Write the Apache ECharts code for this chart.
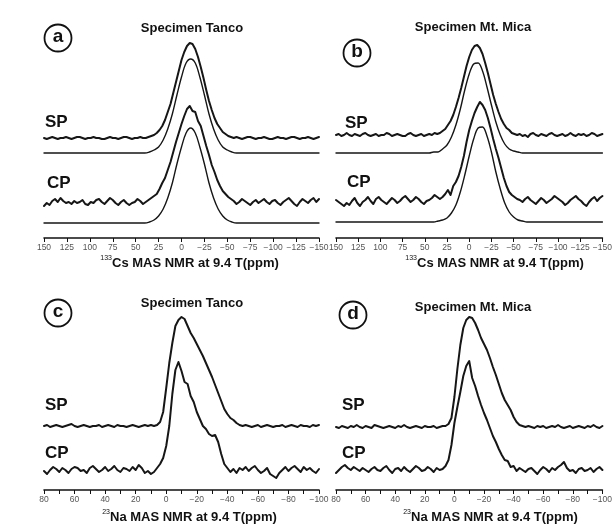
<!DOCTYPE html>
<html>
<head>
<meta charset="utf-8">
<script src="https://cdn.jsdelivr.net/npm/echarts@6/dist/echarts.min.js"></script>
<style>
html,body{margin:0;padding:0;background:#fff;}
#c{width:615px;height:527px;}
</style>
</head>
<body>
<div id="c"></div>
<script>
// ---- sample grids (ppm) ----
const topNoisyStart = 150, topNoisyStep = 3, topNoisyN = 101;
const topFitStart = 150, topFitStep = 5, topFitN = 61;
const botStart = 80, botStep = 2, botN = 91;

// ---- tick labels ----
const topTicks = [150,125,100,75,50,25,0,-25,-50,-75,-100,-125,-150];
const botTicks = [80,60,40,20,0,-20,-40,-60,-80,-100];

// ---- Panel a: 133Cs, Specimen Tanco (intensity above each trace baseline) ----
const spA = [0,-1,0,1,0,-1,0,0,1,0,-1,0,1,1,0,-1,0,0,1,0,0,-1,-1,0,1,0,0,-1,0,1,1,0,-1,0,0,1,0,0,1,2,
3,5,8,12,18,26,34,45,56,67,78,86,92,95,94,89,81,71,60,48,37,28,20,14,10,6,4,2,1,
0,1,0,-1,0,1,1,0,-1,0,0,1,0,-1,-1,0,1,0,0,-1,0,1,1,0,-1,0,0,1,0,-1,0,1];
const spAfit = [0,0,0,0,0,0,0,0,0,0,0,0,0,0,0,0,0,0,0,0,0,0,0,
1,3,6,13,24,39,58,76,90,94,90,76,58,39,24,13,6,3,1,
0,0,0,0,0,0,0,0,0,0,0,0,0,0,0,0,0,0,0];
const cpA = [-4,-1,-3,1,3,0,4,1,-1,0,-2,1,-1,0,2,-2,-3,0,-1,2,3,0,-2,1,4,2,-1,-3,0,2,-1,-3,-1,0,3,1,-2,0,2,4,
6,8,13,19,24,32,40,50,60,69,78,86,93,96,91,90,81,76,66,56,47,37,30,22,16,11,8,5,3,
1,-2,0,3,1,-1,-3,0,2,-1,1,3,0,-2,1,2,-1,-3,0,2,4,1,-2,-4,0,3,1,-1,2,4,0,3];
const cpAfit = [0,0,0,0,0,0,0,0,0,0,0,0,0,0,0,0,0,0,0,0,0,0,0,
1,3,7,14,25,40,59,76,90,95,90,76,59,40,25,14,7,3,1,
0,0,0,0,0,0,0,0,0,0,0,0,0,0,0,0,0,0,0];

// ---- Panel b: 133Cs, Specimen Mt. Mica ----
const spB = [0,1,-1,0,2,0,-1,1,0,-1,1,2,0,-1,0,1,-1,0,0,2,1,-1,0,1,0,-1,-1,1,2,0,-1,0,1,-1,0,1,0,2,1,2,
4,6,10,14,20,28,37,47,58,69,78,85,89,90,87,81,72,62,51,40,31,23,16,11,7,5,2,1,0,
1,-1,0,-2,1,2,0,-1,1,0,-1,1,2,0,-1,0,1,-1,0,2,0,-1,1,0,1,-1,0,2,1,-1,0,1];
const spBfit = [0,0,0,0,0,0,0,0,0,0,0,0,0,0,0,0,0,0,0,0,0,0,
1,1,4,8,16,28,44,63,79,89,90,82,66,48,31,18,9,4,2,1,
0,0,0,0,0,0,0,0,0,0,0,0,0,0,0,0,0,0,0];
const cpB = [0,-2,-4,-6,-3,-5,-1,2,-3,-6,-2,0,3,-1,-4,1,3,0,-2,-4,-1,2,0,-3,-1,2,4,1,-2,0,3,1,-2,-4,-1,0,2,5,3,1,
3,6,10,5,14,18,24,33,44,58,70,79,87,93,98,95,90,82,72,61,51,42,32,22,14,8,5,3,1,
0,-2,1,3,0,-2,-4,-1,2,0,-3,-1,1,4,2,0,-2,-5,-3,0,2,4,1,-1,-4,-6,-2,1,3,-1,2,4];
const cpBfit = [0,0,0,0,0,0,0,0,0,0,0,0,0,0,0,0,0,0,0,0,0,0,0,
1,2,4,9,17,30,47,66,83,94,95,86,70,50,33,19,10,5,2,1,
0,0,0,0,0,0,0,0,0,0,0,0,0,0,0,0,0,0];

// ---- Panel c: 23Na, Specimen Tanco ----
const spC = [0,1,-1,0,1,0,-1,0,1,2,0,-1,0,1,0,-1,0,0,1,-1,0,1,0,-1,1,0,0,-1,0,1,0,-1,0,1,0,1,0,
1,4,14,38,63,83,100,106,109,107,100,93,88,82,76,70,63,56,49,41,33,25,17,12,8,6,3,1,0,
1,0,-1,0,1,-1,0,1,0,-1,0,0,1,-1,0,1,0,-1,1,0,0,-1,1,0,1];
const cpC = [-1,-4,0,3,1,-2,2,0,-3,1,3,2,-1,0,-3,2,4,1,-2,0,3,-1,1,4,0,-2,2,1,-1,3,0,5,2,-3,-1,-4,-2,
2,6,12,24,44,76,100,108,99,88,86,74,68,58,51,44,41,36,34,35,28,16,6,2,-2,1,-3,2,0,
3,-1,2,4,0,-3,-1,2,-4,-6,-8,-3,0,3,-1,2,4,1,-2,3,0,2,-1,-3,1];

// ---- Panel d: 23Na, Specimen Mt. Mica ----
const spD = [0,-1,1,0,-1,1,0,2,0,-1,1,0,-1,2,1,0,-1,0,1,0,-1,1,0,2,0,-1,0,1,0,-1,1,0,0,1,-1,0,1,
1,3,9,30,58,82,99,107,110,109,104,97,89,83,77,69,60,52,43,34,27,22,17,10,5,2,1,0,1,
0,-1,1,0,1,-1,0,1,0,2,0,-1,0,1,-1,0,1,0,-1,1,0,2,0,-1,1];
const cpD = [-3,0,3,5,2,0,3,1,-1,2,0,-2,1,3,0,-1,2,4,0,-3,1,2,-1,3,0,-2,1,4,2,-1,0,3,1,-2,2,0,1,
4,10,25,47,63,78,94,104,109,92,84,74,65,57,50,42,34,28,21,15,10,9,3,4,-1,2,0,-2,1,
2,-1,-4,0,3,1,-2,2,0,3,5,8,2,-1,0,-3,1,2,-1,0,2,-2,1,3,0];

// ---- vertical stacking offsets of each trace (plot units) ----
const offA = {sp:100, spFit:85, cp:36, cpFit:15};
const offB = {sp:103, spFit:85, cp:38, cpFit:16};
const offC = {sp:64, cp:20};
const offD = {sp:63, cp:20};

const ppmTopNoisy = Array.from({length:topNoisyN},(_,i)=>topNoisyStart-topNoisyStep*i);
const ppmTopFit = Array.from({length:topFitN},(_,i)=>topFitStart-topFitStep*i);
const ppmBot = Array.from({length:botN},(_,i)=>botStart-botStep*i);

const INK = '#161616';
const FONT = '"Liberation Sans", Arial, sans-serif';

function line(idx, xs, vals, off, w, smooth){
  return {
    type:'line', xAxisIndex:idx, yAxisIndex:idx, showSymbol:false, symbol:'none',
    smooth: smooth ? 0.35 : false, animation:false, silent:true,
    lineStyle:{color:INK, width:w, join:'round', cap:'round'},
    data: vals.map((v,i)=>[xs[i], v+off])
  };
}
function fmt(v){ return v<0 ? '\u2212'+(-v) : String(v); }

function xAxisDef(idx, min, max, interval, labelSet){
  return {
    gridIndex:idx, type:'value', min:min, max:max, interval:interval, inverse:true,
    axisLine:{show:true, onZero:false, lineStyle:{color:'#111', width:1.6}},
    axisTick:{show:true, inside:false, length:4, lineStyle:{color:'#111', width:1}},
    axisLabel:{show:true, margin:5, fontSize:8.5, color:'#555', fontFamily:FONT,
      showMinLabel:true, showMaxLabel:true,
      formatter:(v)=> labelSet.indexOf(v)>=0 ? fmt(v) : ''},
    splitLine:{show:false}
  };
}
function yAxisDef(idx, h){
  return {gridIndex:idx, type:'value', min:0, max:h, show:false, splitLine:{show:false}};
}

const grids = [
  {left:44, width:275, top:28, height:210},
  {left:336, width:275, top:28, height:210},
  {left:44, width:275, top:298, height:192},
  {left:336, width:275, top:298, height:192}
];

const series = [
  line(0, ppmTopNoisy, spA, offA.sp, 2, false),
  line(0, ppmTopFit, spAfit, offA.spFit, 1.4, true),
  line(0, ppmTopNoisy, cpA, offA.cp, 2, false),
  line(0, ppmTopFit, cpAfit, offA.cpFit, 1.4, true),
  line(1, ppmTopNoisy, spB, offB.sp, 2, false),
  line(1, ppmTopFit, spBfit, offB.spFit, 1.4, true),
  line(1, ppmTopNoisy, cpB, offB.cp, 2, false),
  line(1, ppmTopFit, cpBfit, offB.cpFit, 1.4, true),
  line(2, ppmBot, spC, offC.sp, 2, false),
  line(2, ppmBot, cpC, offC.cp, 2, false),
  line(3, ppmBot, spD, offD.sp, 2, false),
  line(3, ppmBot, cpD, offD.cp, 2, false)
];

function circ(cx, cy, letter){
  return [
    {type:'circle', shape:{cx:cx, cy:cy, r:13.5}, style:{fill:'#fff', stroke:'#111', lineWidth:1.8}, z:10},
    {type:'text', x:cx, y:cy-1, z:11, style:{text:letter, fill:'#111', font:'bold 19px '+FONT, textAlign:'center', textVerticalAlign:'middle'}}
  ];
}
function txt(x, y, s, font, align){
  return {type:'text', x:x, y:y, z:11, style:{text:s, fill:'#111', font:font, textAlign:align||'center', textVerticalAlign:'middle'}};
}
function axTitle(x, y, sup, main){
  return [
    txt(x, y-5, sup, '7px '+FONT, 'right'),
    txt(x, y, main, 'bold 13px '+FONT, 'left')
  ];
}

const graphics = [].concat(
  circ(58, 38, 'a'), circ(357, 53, 'b'), circ(58, 313, 'c'), circ(353, 315, 'd'),
  [txt(192, 28, 'Specimen Tanco', 'bold 13px '+FONT),
   txt(473, 27, 'Specimen Mt. Mica', 'bold 13px '+FONT),
   txt(192, 303, 'Specimen Tanco', 'bold 13px '+FONT),
   txt(473, 307, 'Specimen Mt. Mica', 'bold 13px '+FONT),
   txt(45, 122, 'SP', 'bold 17px '+FONT, 'left'),
   txt(47, 183, 'CP', 'bold 17px '+FONT, 'left'),
   txt(345, 123, 'SP', 'bold 17px '+FONT, 'left'),
   txt(347, 182, 'CP', 'bold 17px '+FONT, 'left'),
   txt(45, 405, 'SP', 'bold 17px '+FONT, 'left'),
   txt(45, 453, 'CP', 'bold 17px '+FONT, 'left'),
   txt(342, 405, 'SP', 'bold 17px '+FONT, 'left'),
   txt(342, 453, 'CP', 'bold 17px '+FONT, 'left')],
  axTitle(112, 263, '133', 'Cs MAS NMR at 9.4 T(ppm)'),
  axTitle(417, 263, '133', 'Cs MAS NMR at 9.4 T(ppm)'),
  axTitle(110, 517, '23', 'Na MAS NMR at 9.4 T(ppm)'),
  axTitle(411, 517, '23', 'Na MAS NMR at 9.4 T(ppm)')
);

const chart = echarts.init(document.getElementById('c'), null, {renderer:'canvas'});
chart.setOption({
  backgroundColor:'#fff',
  animation:false,
  grid: grids,
  xAxis: [
    xAxisDef(0, -150, 150, 25, topTicks),
    xAxisDef(1, -150, 150, 25, topTicks),
    xAxisDef(2, -100, 80, 10, botTicks),
    xAxisDef(3, -100, 80, 10, botTicks)
  ],
  yAxis: [yAxisDef(0,210), yAxisDef(1,210), yAxisDef(2,192), yAxisDef(3,192)],
  series: series,
  graphic: graphics
});
</script>
</body>
</html>
